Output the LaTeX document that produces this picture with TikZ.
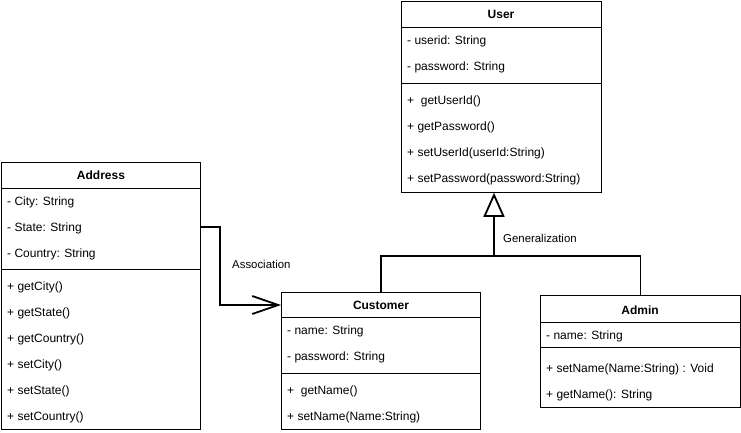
\documentclass[tikz,border=0pt]{standalone}
\usepackage{fontspec}
\setmainfont{Liberation Sans}
\usetikzlibrary{arrows.meta}

\tikzset{
  classbox/.style={draw,line width=0.8pt,anchor=north west,inner sep=0pt},
  classtitle/.style={font=\fontsize{12}{14}\selectfont\bfseries,inner sep=0pt},
  member/.style={anchor=west,inner sep=0pt,yshift=-1.2pt,font=\fontsize{12}{14}\selectfont},
  linklabel/.style={anchor=west,inner sep=0pt,font=\fontsize{11.4}{13}\selectfont},
  sepline/.style={line width=0.8pt},
  link/.style={line width=1.8pt,line join=miter}
}

\begin{document}
\begin{tikzpicture}[x=1pt,y=-1pt]
\useasboundingbox (0,0) rectangle (741,433);
\begin{scope}[shift={(401,1)}] %User
  \node[classbox,minimum width=200pt,minimum height=191pt] (user) at (0,0) {};
  \node[classtitle] (usertitle) at (100,13) {User};
  \draw[sepline] (0,26) -- (200,26);
  \node[member] (userid) at (6,39) {- userid: String};
  \node[member] (userpass) at (6,65) {- password: String};
  \draw[sepline] (0,82) -- (200,82);
  \node[member] (getuserid) at (6,99) {+\ \ getUserId()};
  \node[member] (getpass) at (6,125) {+ getPassword()};
  \node[member] (setuserid) at (6,151) {+ setUserId(userId:String)};
  \node[member] (setpass) at (6,177) {+ setPassword(password:String)};
\end{scope}
\begin{scope}[shift={(1,162)}] %Address
  \node[classbox,minimum width=199pt,minimum height=267pt] (address) at (0,0) {};
  \node[classtitle] (addrtitle) at (100,13) {Address};
  \draw[sepline] (0,26) -- (199,26);
  \node[member] (city) at (6,39) {- City: String};
  \node[member] (state) at (6,65) {- State: String};
  \node[member] (country) at (6,91) {- Country: String};
  \draw[sepline] (0,107) -- (199,107);
  \node[member] (getcity) at (6,124) {+ getCity()};
  \node[member] (getstate) at (6,150) {+ getState()};
  \node[member] (getcountry) at (6,176) {+ getCountry()};
  \node[member] (setcity) at (6,202) {+ setCity()};
  \node[member] (setstate) at (6,228) {+ setState()};
  \node[member] (setcountry) at (6,254) {+ setCountry()};
\end{scope}
\begin{scope}[shift={(281,292)}] %Customer
  \node[classbox,minimum width=199pt,minimum height=137pt] (customer) at (0,0) {};
  \node[classtitle] (custtitle) at (100,13) {Customer};
  \draw[sepline] (0,25) -- (199,25);
  \node[member] (custname) at (6,38) {- name: String};
  \node[member] (custpass) at (6,64) {- password: String};
  \draw[sepline] (0,81) -- (199,81);
  \node[member] (getname) at (6,98) {+\ \ getName()};
  \node[member] (setname) at (6,124) {+ setName(Name:String)};
\end{scope}
\begin{scope}[shift={(540,295)}] %Admin
  \node[classbox,minimum width=200pt,minimum height=112pt] (admin) at (0,0) {};
  \node[classtitle] (admintitle) at (100,15) {Admin};
  \draw[sepline] (0,27) -- (200,27);
  \node[member] (adminname) at (6,40) {- name: String};
  \draw[sepline] (0,52) -- (200,52);
  \node[member] (adminset) at (6,73) {+ setName(Name:String) : Void};
  \node[member] (adminget) at (6,99) {+ getName(): String};
\end{scope}
% connectors
\coordinate (gen) at (494,256);
\draw[link] (customer.north) |- (gen) -| (admin.north);
\draw[link,-{Triangle[open,length=24pt,width=21pt,line width=1.8pt]}] (gen) -- (gen |- user.south);
\node[linklabel] (genlabel) at (503,238) {Generalization};
\coordinate (assoc) at (200,227);
\draw[link,-{Straight Barb[length=26pt,width=18pt,line width=1.8pt]}] (assoc) -- ++(20,0) |- (custtitle -| customer.west);
\node[linklabel] (assoclabel) at (232,264) {Association};
\end{tikzpicture}
\end{document}
